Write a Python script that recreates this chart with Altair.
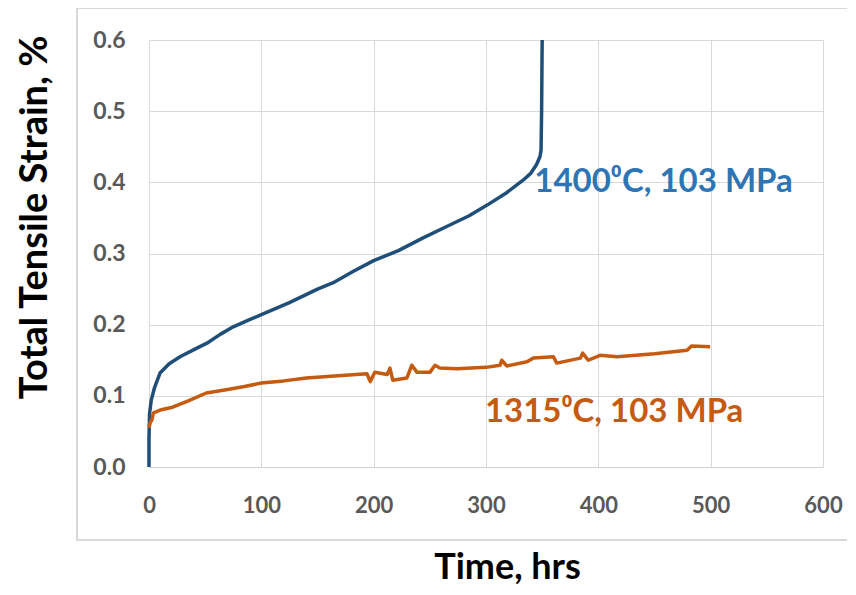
import altair as alt
import pandas as pd

# 1400 C, 103 MPa
t_1400 = [0, 0, 0.5, 2, 5, 9.8, 18, 27.6, 40, 51.6, 63, 75, 88, 100, 125, 150, 164, 182,
          200, 222, 244, 265, 285, 301, 318, 333, 340, 345, 348, 349, 349.5, 350]
s_1400 = [0, 0.04, 0.075, 0.094, 0.112, 0.132, 0.145, 0.155, 0.165, 0.174, 0.186, 0.197,
          0.206, 0.214, 0.231, 0.25, 0.259, 0.275, 0.29, 0.304, 0.322, 0.338, 0.353, 0.368,
          0.385, 0.403, 0.413, 0.425, 0.436, 0.445, 0.5, 0.6]

# 1315 C, 103 MPa
t_1315 = [0, 1, 2.5, 4, 10, 21, 35, 51, 70, 85, 100, 120, 140, 165, 194, 197, 201, 212,
          214.5, 217, 229.5, 234, 238.6, 250, 254.6, 259, 274, 300, 312.5, 314, 318.5,
          336.5, 342, 360, 363, 384, 386, 391, 401.5, 416.6, 450, 479, 483, 499.5]
s_1315 = [0.055, 0.062, 0.066, 0.076, 0.08, 0.084, 0.093, 0.104, 0.109, 0.113, 0.118,
          0.121, 0.125, 0.128, 0.131, 0.12, 0.133, 0.130, 0.139, 0.122, 0.125, 0.143,
          0.133, 0.133, 0.143, 0.139, 0.138, 0.140, 0.143, 0.150, 0.142, 0.148, 0.153,
          0.155, 0.146, 0.153, 0.160, 0.150, 0.157, 0.155, 0.159, 0.164, 0.170, 0.169]

x_ticks = [0, 100, 200, 300, 400, 500, 600]
y_ticks = [0.0, 0.1, 0.2, 0.3, 0.4, 0.5, 0.6]

label_1400 = "1400\u2070C, 103 MPa"
label_1315 = "1315\u2070C, 103 MPa"

df = pd.concat([
    pd.DataFrame({"t": t_1400, "s": s_1400, "series": "1400", "i": range(len(t_1400))}),
    pd.DataFrame({"t": t_1315, "s": s_1315, "series": "1315", "i": range(len(t_1315))}),
])

FONT = "Lato"

xscale = alt.Scale(domain=[0, 600], nice=False)
yscale = alt.Scale(domain=[0, 0.6], nice=False)

lines = alt.Chart(df).mark_line(strokeWidth=3.5, strokeJoin="round").encode(
    x=alt.X("t:Q", scale=xscale, axis=alt.Axis(
        values=x_ticks, title="Time, hrs", format="d",
        grid=True, gridColor="#D9D9D9", gridWidth=1,
        domainColor="#D0D0D0", domainWidth=1, ticks=False,
        labelFont=FONT, labelFontSize=22, labelColor="#595959", labelFontWeight="bold",
        labelPadding=28, labelFlush=False, labelOverlap=False,
        titleFont=FONT, titleFontSize=36, titleFontWeight="bold", titleColor="#000000",
        titleX=358, titleY=111, titleBaseline="alphabetic")),
    y=alt.Y("s:Q", scale=yscale, axis=alt.Axis(
        values=y_ticks, title="Total Tensile Strain, %", format=".1f",
        grid=True, gridColor="#D9D9D9", gridWidth=1,
        domain=False, ticks=False,
        labelFont=FONT, labelFontSize=23, labelColor="#595959", labelFontWeight="bold",
        labelPadding=24, labelFlush=False, labelOverlap=False,
        titleFont=FONT, titleFontSize=38, titleFontWeight="bold", titleColor="#000000",
        titleX=-114, titleY=177, titleBaseline="middle", titleAngle=-90)),
    color=alt.Color("series:N", scale=alt.Scale(domain=["1400", "1315"],
                                                range=["#1F4E79", "#C55A11"]), legend=None),
    order="i:Q",
    detail="series:N",
)

ann1 = alt.Chart().mark_text(font=FONT, fontSize=33, fontWeight="bold", color="#2E75B6",
                             align="left", baseline="alphabetic").encode(
    x=alt.datum(343.0, scale=xscale), y=alt.datum(0.386, scale=yscale), text=alt.value(label_1400))
ann2 = alt.Chart().mark_text(font=FONT, fontSize=33, fontWeight="bold", color="#C55A11",
                             align="left", baseline="alphabetic").encode(
    x=alt.datum(299, scale=xscale), y=alt.datum(0.063, scale=yscale), text=alt.value(label_1315))

border = alt.Chart().mark_rect(fill=None, stroke="#D9D9D9", strokeWidth=2).encode(
    x=alt.value(-72), x2=alt.value(721), y=alt.value(-32), y2=alt.value(500))

chart = alt.layer(border, lines, ann1, ann2).properties(
    width=674, height=427,
    autosize=alt.AutoSizeParams(type="none"),
    padding={"left": 141, "top": 32, "right": 24, "bottom": 118},
).configure_view(stroke=None)

chart.save("out.html", embed_options={"renderer": "svg", "actions": False})
